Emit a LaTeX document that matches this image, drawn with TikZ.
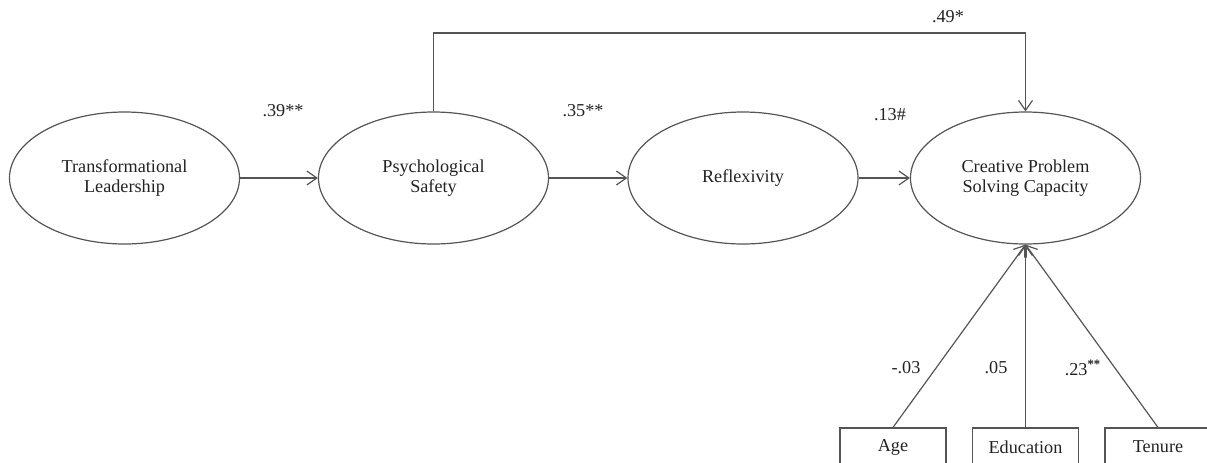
\documentclass[tikz,border=0pt]{standalone}
\usepackage{fontspec}
\setmainfont{Liberation Serif}
\usetikzlibrary{shapes.geometric,arrows.meta}
\definecolor{linec}{HTML}{555555}
\definecolor{textc}{HTML}{222222}
\tikzset{
  latent/.style={ellipse, draw=linec, line width=0.6pt, minimum width=115pt, minimum height=66pt, inner sep=0pt, align=center, text=textc, font=\fontsize{9.1}{10}\selectfont},
  obs/.style={rectangle, draw=linec, line width=0.6pt, minimum width=53pt, minimum height=19pt, inner sep=0pt, text=textc, font=\fontsize{9.1}{10}\selectfont},
  arr/.style={draw=linec, line width=0.6pt, -{Straight Barb[length=5pt,width=7pt]}},
  coef/.style={text=textc, font=\fontsize{9.1}{10}\selectfont, inner sep=0pt}
}
\begin{document}
\begin{tikzpicture}[x=0.5pt,y=-0.5pt]
\useasboundingbox (0,0) rectangle (1207,462);
\node[latent] (tl) at (124.5,178) {Transformational\\Leadership};
\node[latent] (ps) at (433.5,178) {Psychological\\Safety};
\node[latent] (rf) at (743,178) {Reflexivity};
\node[latent] (cps) at (1025.5,178) {Creative Problem\\Solving Capacity};
\node[obs] (age) at (893,447) {Age};
\node[obs] (edu) at (1025.5,447) {Education};
\node[obs] (ten) at (1158,447) {Tenure};
\coordinate (bend) at (1025.5,33);
\draw[arr] (tl.east) -- (ps.west);
\draw[arr] (ps.east) -- (rf.west);
\draw[arr] (rf.east) -- (cps.west);
\draw[arr] (ps.north) |- (bend) -- (cps.north);
\draw[arr] (age.north) -- (cps.south);
\draw[arr] (edu.north) -- (cps.south);
\draw[arr] (ten.north) -- (cps.south);
\node[coef] (c1) at (283,111) {.39**};
\node[coef] (c2) at (583,111) {.35**};
\node[coef] (c3) at (890,115) {.13\#};
\node[coef] (c4) at (948,17) {.49*};
\node[coef] (c5) at (906,368) {-.03};
\node[coef] (c6) at (996,368) {.05};
\node[coef] (c7) at (1083,368) {.23\textsuperscript{\textbf{**}}};
\end{tikzpicture}
\end{document}
